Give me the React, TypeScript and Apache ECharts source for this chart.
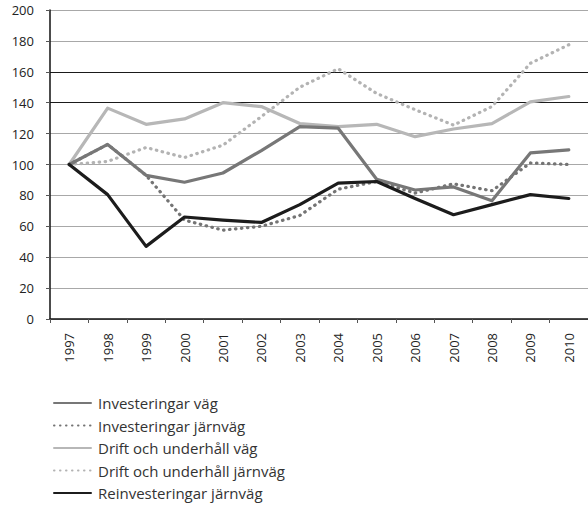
import React, { useEffect, useRef } from "react";
import * as echarts from "echarts";

const years = ["1997","1998","1999","2000","2001","2002","2003","2004","2005","2006","2007","2008","2009","2010"];
const investVag = [100, 113, 93, 88.5, 94.5, 109, 124.5, 123.5, 90.5, 83.5, 85.5, 76.5, 107.5, 109.5];
const investJarnvag = [100, 113, 93, 64, 57.5, 60, 67, 84, 89, 81.5, 87.5, 83, 101, 100];
const driftVag = [100, 136.5, 126, 129.5, 140, 137.5, 126.5, 124.5, 126, 118, 123, 126.5, 140.5, 144];
const driftJarnvag = [100, 102, 111, 104.5, 112.5, 131, 150, 162, 146, 135.5, 125.5, 137.5, 165.5, 177.5];
const reinvest = [100, 80.5, 47, 66, 64, 62.5, 74, 88, 89, 78, 67.5, 74, 80.5, 78];
const seriesNames = [
  "Investeringar väg",
  "Investeringar järnväg",
  "Drift och underhåll väg",
  "Drift och underhåll järnväg",
  "Reinvesteringar järnväg",
];
const yTicks = [0, 20, 40, 60, 80, 100, 120, 140, 160, 180, 200];

export default function App() {
  const ref = useRef<HTMLDivElement>(null);
  useEffect(() => {
    if (!ref.current) return;
    const chart = echarts.init(ref.current, null, { renderer: "svg" });
    const font = "'Open Sans', Lato, sans-serif";
    const dotted: any = [0.5, 5.5];
    const mk = (name: string, data: number[], color: string, dots: boolean, z: number) => ({
      name,
      type: "line",
      data,
      symbol: "none",
      showSymbol: false,
      z,
      lineStyle: dots
        ? { color, width: 3.2, type: dotted, cap: "round" }
        : { color, width: 3.2, cap: "round", join: "round" },
      itemStyle: { color },
    });
    const splitColors = yTicks.map((v) => (v === 140 || v === 160 ? "#1a1a1a" : "#a8a8a8"));
    chart.setOption({
      animation: false,
      backgroundColor: "#ffffff",
      grid: { left: 50, top: 10, right: -11, bottom: 187, containLabel: false },
      legend: {
        orient: "vertical",
        left: 48,
        top: 394,
        padding: [0, 5, 0, 5],
        itemWidth: 37,
        itemHeight: 14,
        itemGap: 4.5,
        itemStyle: { opacity: 0, color: "transparent", borderWidth: 0 },
        textStyle: { fontFamily: font, fontSize: 15, lineHeight: 18, color: "#333", padding: [0, 0, 0, 2] },
        data: seriesNames,
      },
      xAxis: {
        type: "category",
        data: years,
        boundaryGap: true,
        axisLine: { lineStyle: { color: "#111", width: 1.5 } },
        axisTick: { show: true, length: 4, lineStyle: { color: "#555" } },
        axisLabel: { rotate: 90, margin: 14, fontFamily: font, fontSize: 13, color: "#222" },
        splitLine: { show: false },
      },
      yAxis: {
        type: "value",
        min: 0,
        max: 200,
        interval: 20,
        axisLine: { show: true, lineStyle: { color: "#111", width: 1.5 } },
        axisTick: { show: true, length: 4, lineStyle: { color: "#555" } },
        axisLabel: { margin: 16, fontFamily: font, fontSize: 13, color: "#222" },
        splitLine: { show: true, lineStyle: { color: splitColors, width: 1.2 } },
      },
      series: [
        mk(seriesNames[0], investVag, "#777777", false, 4),
        mk(seriesNames[1], investJarnvag, "#747474", true, 3),
        mk(seriesNames[2], driftVag, "#b7b7b7", false, 2),
        mk(seriesNames[3], driftJarnvag, "#b3b3b3", true, 2),
        mk(seriesNames[4], reinvest, "#1c1c1c", false, 5),
      ],
    });
    return () => chart.dispose();
  }, []);
  return (
    <div
      ref={ref}
      style={{ position: "fixed", left: 0, top: 0, width: 588, height: 506 }}
    />
  );
}
